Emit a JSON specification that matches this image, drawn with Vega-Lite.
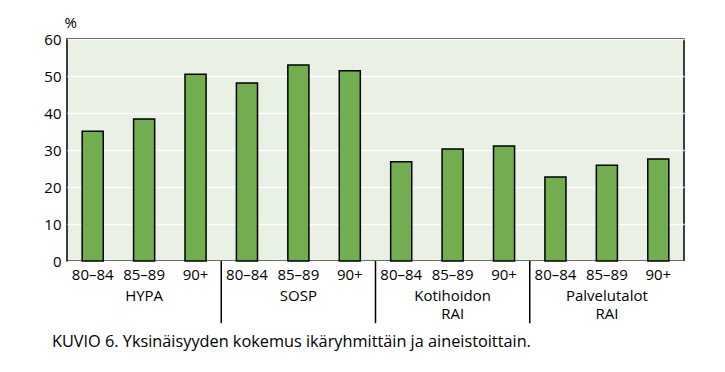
{
  "$schema": "https://vega.github.io/schema/vega-lite/v6.json",
  "background": "white",
  "autosize": "none",
  "padding": {"left": 67, "top": 39, "right": 41, "bottom": 111},
  "width": 617,
  "height": 222,
  "data": {"values": [
    {"group": "HYPA", "age": "80–84", "value": 35.1},
    {"group": "HYPA", "age": "85–89", "value": 38.4},
    {"group": "HYPA", "age": "90+", "value": 50.5},
    {"group": "SOSP", "age": "80–84", "value": 48.1},
    {"group": "SOSP", "age": "85–89", "value": 53.0},
    {"group": "SOSP", "age": "90+", "value": 51.4},
    {"group": "Kotihoidon RAI", "age": "80–84", "value": 26.8},
    {"group": "Kotihoidon RAI", "age": "85–89", "value": 30.3},
    {"group": "Kotihoidon RAI", "age": "90+", "value": 31.1},
    {"group": "Palvelutalot RAI", "age": "80–84", "value": 22.7},
    {"group": "Palvelutalot RAI", "age": "85–89", "value": 25.9},
    {"group": "Palvelutalot RAI", "age": "90+", "value": 27.6}
  ]},
  "transform": [{"calculate": "datum.group + '|' + datum.age", "as": "key"}],
  "layer": [
    {
      "mark": {"type": "bar", "fill": "#72ad50", "stroke": "black", "strokeWidth": 1.5},
      "encoding": {
        "x": {
          "field": "key", "type": "nominal",
          "sort": ["HYPA|80–84", "HYPA|85–89", "HYPA|90+", "SOSP|80–84", "SOSP|85–89", "SOSP|90+",
                   "Kotihoidon RAI|80–84", "Kotihoidon RAI|85–89", "Kotihoidon RAI|90+",
                   "Palvelutalot RAI|80–84", "Palvelutalot RAI|85–89", "Palvelutalot RAI|90+"],
          "scale": {"paddingInner": 0.59, "paddingOuter": 0.295},
          "axis": {"title": null, "labelAngle": 0, "ticks": false, "domain": false, "grid": false,
                   "labelExpr": "split(datum.value, '|')[1]",
                   "labelFontSize": 15, "labelFont": "Open Sans", "labelColor": "black", "labelPadding": 6}
        },
        "y": {
          "field": "value", "type": "quantitative",
          "scale": {"domain": [0, 60], "nice": false},
          "axis": {
            "title": "%", "titleAngle": 0, "titleAlign": "left", "titleBaseline": "bottom",
            "titleX": -3, "titleY": -9, "titleFontSize": 15, "titleFontWeight": "normal",
            "titleFont": "Open Sans", "titleColor": "black",
            "values": [0, 10, 20, 30, 40, 50, 60], "labelOverlap": false,
            "grid": true, "gridColor": "white", "gridWidth": 1.5,
            "ticks": false, "domain": false,
            "labelFontSize": 15, "labelFont": "Open Sans", "labelColor": "black", "labelPadding": 6
          }
        }
      }
    },
    {
      "transform": [{"filter": "datum.age == '80–84' && datum.group != 'HYPA'"}],
      "mark": {"type": "rule", "color": "black", "strokeWidth": 1.5, "clip": false},
      "encoding": {
        "x": {"field": "key", "type": "nominal", "bandPosition": -0.7195,
              "sort": ["HYPA|80–84", "HYPA|85–89", "HYPA|90+", "SOSP|80–84", "SOSP|85–89", "SOSP|90+",
                   "Kotihoidon RAI|80–84", "Kotihoidon RAI|85–89", "Kotihoidon RAI|90+",
                   "Palvelutalot RAI|80–84", "Palvelutalot RAI|85–89", "Palvelutalot RAI|90+"],
              "axis": {"title": null, "labelAngle": 0, "ticks": false, "domain": false, "grid": false,
                   "labelExpr": "split(datum.value, '|')[1]",
                   "labelFontSize": 15, "labelFont": "Open Sans", "labelColor": "black", "labelPadding": 6}},
        "y": {"datum": 0, "scale": {"domain": [0, 60], "nice": false},
              "axis": {
            "title": "%", "titleAngle": 0, "titleAlign": "left", "titleBaseline": "bottom",
            "titleX": -3, "titleY": -9, "titleFontSize": 15, "titleFontWeight": "normal",
            "titleFont": "Open Sans", "titleColor": "black",
            "values": [0, 10, 20, 30, 40, 50, 60], "labelOverlap": false,
            "grid": true, "gridColor": "white", "gridWidth": 1.5,
            "ticks": false, "domain": false,
            "labelFontSize": 15, "labelFont": "Open Sans", "labelColor": "black", "labelPadding": 6
          }},
        "y2": {"datum": -16.8}
      }
    },
    {
      "transform": [{"filter": "datum.age == '85–89'"}],
      "mark": {"type": "text", "font": "Open Sans", "fontSize": 15, "color": "black",
               "baseline": "top", "lineBreak": " ", "lineHeight": 18, "align": "center"},
      "encoding": {
        "x": {"field": "key", "type": "nominal", "bandPosition": 0.5,
              "sort": ["HYPA|80–84", "HYPA|85–89", "HYPA|90+", "SOSP|80–84", "SOSP|85–89", "SOSP|90+",
                   "Kotihoidon RAI|80–84", "Kotihoidon RAI|85–89", "Kotihoidon RAI|90+",
                   "Palvelutalot RAI|80–84", "Palvelutalot RAI|85–89", "Palvelutalot RAI|90+"],
              "axis": {"title": null, "labelAngle": 0, "ticks": false, "domain": false, "grid": false,
                   "labelExpr": "split(datum.value, '|')[1]",
                   "labelFontSize": 15, "labelFont": "Open Sans", "labelColor": "black", "labelPadding": 6}},
        "y": {"datum": -7.7, "scale": {"domain": [0, 60], "nice": false},
              "axis": {
            "title": "%", "titleAngle": 0, "titleAlign": "left", "titleBaseline": "bottom",
            "titleX": -3, "titleY": -9, "titleFontSize": 15, "titleFontWeight": "normal",
            "titleFont": "Open Sans", "titleColor": "black",
            "values": [0, 10, 20, 30, 40, 50, 60], "labelOverlap": false,
            "grid": true, "gridColor": "white", "gridWidth": 1.5,
            "ticks": false, "domain": false,
            "labelFontSize": 15, "labelFont": "Open Sans", "labelColor": "black", "labelPadding": 6
          }},
        "text": {"field": "group"}
      }
    }
  ],
  "title": {
    "text": "KUVIO 6. Yksinäisyyden kokemus ikäryhmittäin ja aineistoittain.",
    "orient": "bottom", "anchor": "start", "frame": "group",
    "font": "Open Sans", "fontSize": 16.3, "fontWeight": "normal", "color": "black",
    "dx": -15, "offset": 10
  },
  "config": {
    "view": {"stroke": "black", "strokeWidth": 1.5, "fill": "#e9f1e4"},
    "font": "Open Sans"
  }
}
